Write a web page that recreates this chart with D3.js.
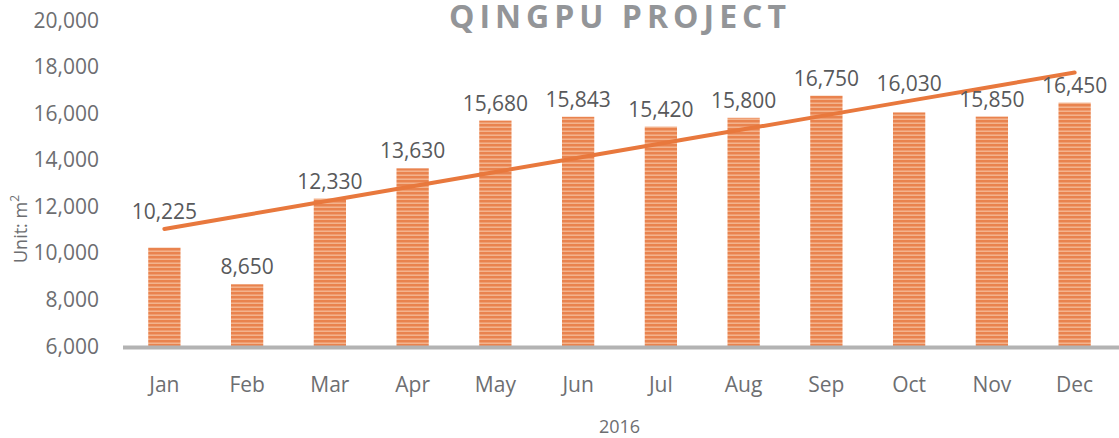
<!DOCTYPE html>
<html>
<head>
<meta charset="utf-8">
<script src="https://cdn.jsdelivr.net/npm/d3@7"></script>
<style>
  body { margin: 0; background: #fff; }
  svg { display: block; font-family: "Open Sans", sans-serif; }
</style>
</head>
<body>
<div id="chart"></div>
<script>
// data
const months = ['Jan', 'Feb', 'Mar', 'Apr', 'May', 'Jun', 'Jul', 'Aug', 'Sep', 'Oct', 'Nov', 'Dec'];
const area = [10225, 8650, 12330, 13630, 15680, 15843, 15420, 15800, 16750, 16030, 15850, 16450];
const yTicks = [6000, 8000, 10000, 12000, 14000, 16000, 18000, 20000];
const title = 'QINGPU PROJECT';
const xTitle = '2016';

const W = 1119, H = 438;
const plot = {left: 123, right: 1116, top: 20, bottom: 346};

const svg = d3.select('#chart')
    .append('svg')
    .attr('width', W)
    .attr('height', H);

// striped fill for the bars
const defs = svg.append('defs');
const pat = defs.append('pattern')
    .attr('id', 'stripes')
    .attr('patternUnits', 'userSpaceOnUse')
    .attr('width', 8)
    .attr('height', 4);
pat.append('rect').attr('width', 8).attr('height', 4).attr('fill', '#e9834e');
pat.append('rect').attr('y', 2.5).attr('width', 8).attr('height', 1.4).attr('fill', '#f5b893');

const x = d3.scaleBand()
    .domain(months)
    .range([plot.left, plot.right])
    .paddingInner(0.61)
    .paddingOuter(0.305);

const y = d3.scaleLinear()
    .domain([6000, 20000])
    .range([plot.bottom, plot.top]);

// y tick labels
svg.append('g')
    .selectAll('text')
    .data(yTicks)
    .enter()
    .append('text')
    .attr('x', 99)
    .attr('y', d => y(d))
    .attr('dy', '0.36em')
    .attr('text-anchor', 'end')
    .attr('font-size', 21)
    .attr('fill', '#6d6e71')
    .text(d => d3.format(',')(d));

// y title
const yt = svg.append('text')
    .attr('transform', 'translate(27,229) rotate(-90)')
    .attr('text-anchor', 'middle')
    .attr('font-size', 18)
    .attr('fill', '#6d6e71');
yt.append('tspan').text('Unit: m');
yt.append('tspan').attr('dy', -8).attr('font-size', 12).text('2');

// bars
svg.append('g')
    .selectAll('rect')
    .data(area)
    .enter()
    .append('rect')
    .attr('x', (d, i) => x(months[i]))
    .attr('y', d => y(d))
    .attr('width', x.bandwidth())
    .attr('height', d => plot.bottom - y(d))
    .attr('fill', 'url(#stripes)');

// x axis line
svg.append('line')
    .attr('x1', plot.left)
    .attr('x2', W)
    .attr('y1', plot.bottom + 1.5)
    .attr('y2', plot.bottom + 1.5)
    .attr('stroke', '#b3b3b3')
    .attr('stroke-width', 4);

// linear trend line (least squares over the months)
const idx = area.map((d, i) => i);
const mx = d3.mean(idx), my = d3.mean(area);
const slope = d3.sum(idx, i => (i - mx) * (area[i] - my)) / d3.sum(idx, i => (i - mx) * (i - mx));
const trend = i => my + slope * (i - mx);
const cx = i => x(months[i]) + x.bandwidth() / 2;

svg.append('path')
    .datum(idx)
    .attr('fill', 'none')
    .attr('stroke', '#e8783d')
    .attr('stroke-width', 4)
    .attr('stroke-linecap', 'round')
    .attr('d', d3.line()
        .x(i => cx(i))
        .y(i => y(trend(i)))
    );

// value labels, lifted above the trend line when they would cross it
svg.append('g')
    .selectAll('text')
    .data(area)
    .enter()
    .append('text')
    .attr('x', (d, i) => cx(i))
    .attr('y', (d, i) => {
        let base = y(d) - 10;
        const ty = y(trend(i));
        if (ty > base - 17 && ty < base + 3) base = ty - 10;
        return base;
    })
    .attr('text-anchor', 'middle')
    .attr('font-size', 21)
    .attr('fill', '#58595b')
    .text(d => d3.format(',')(d));

// month labels
svg.append('g')
    .selectAll('text')
    .data(months)
    .enter()
    .append('text')
    .attr('x', d => x(d) + x.bandwidth() / 2)
    .attr('y', 392)
    .attr('text-anchor', 'middle')
    .attr('font-size', 21)
    .attr('fill', '#6d6e71')
    .text(d => d);

// x title
svg.append('text')
    .attr('x', (plot.left + plot.right) / 2)
    .attr('y', 433)
    .attr('text-anchor', 'middle')
    .attr('font-size', 18)
    .attr('fill', '#6d6e71')
    .text(xTitle);

// chart title
svg.append('text')
    .attr('x', 620)
    .attr('y', 28)
    .attr('text-anchor', 'middle')
    .attr('font-size', 32)
    .attr('font-weight', 'bold')
    .attr('letter-spacing', 5)
    .attr('fill', '#939598')
    .text(title);
</script>
</body>
</html>
